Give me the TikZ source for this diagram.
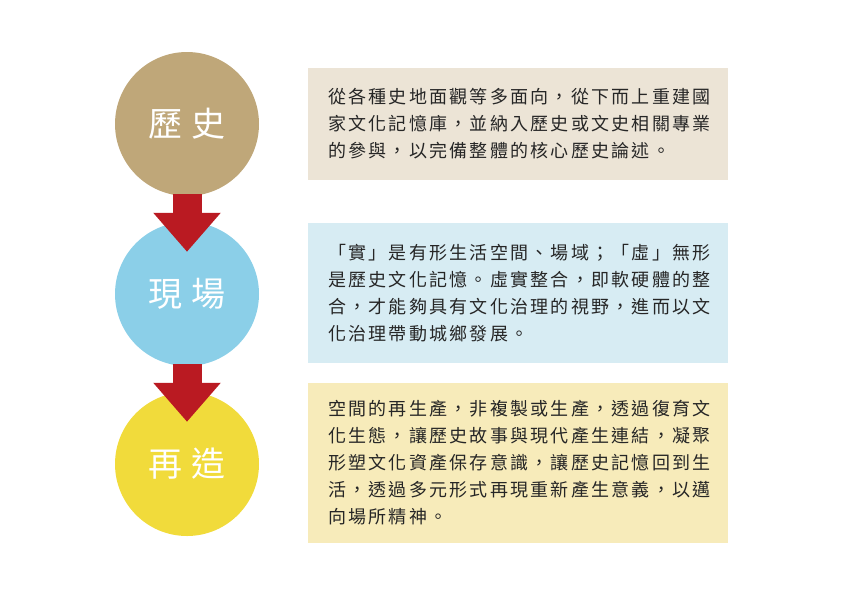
\documentclass[tikz,border=0pt]{standalone}
\usepackage{fontspec}
\usepackage{xcolor}
\usepackage{tikz}
\usetikzlibrary{arrows.meta, positioning}
\newfontfamily\cjk[LetterSpace=12.5]{Noto Sans CJK TC}
\newfontfamily\cjktitle{Noto Sans CJK TC}
\definecolor{histtan}{RGB}{191,167,121}
\definecolor{siteblue}{RGB}{139,207,232}
\definecolor{remakeyel}{RGB}{241,219,59}
\definecolor{arrred}{RGB}{186,26,34}
\definecolor{histbox}{RGB}{236,228,214}
\definecolor{sitebox}{RGB}{215,236,243}
\definecolor{remakebox}{RGB}{247,235,186}
\definecolor{bodytext}{RGB}{38,38,38}

\begin{document}
\begin{tikzpicture}[x=1pt, y=-1pt,
  stage/.style={circle, minimum size=144pt, inner sep=0pt, text=white,
                font=\cjktitle\fontsize{34pt}{40pt}\selectfont},
  note/.style={rectangle, minimum width=420pt, text width=380pt,
               inner xsep=20pt, inner ysep=0pt, align=left, text=bodytext,
               font=\cjk\fontsize{18pt}{27pt}\selectfont},
  bigarr/.style={-{Triangle[length=39pt, width=65pt]}, line width=29pt, arrred},
]
\useasboundingbox (0,0) rectangle (842,595);

% Circles (left column)
\node[stage, fill=histtan]   at (187,124) (hist)   {歷\hspace{10pt}史};
\node[stage, fill=siteblue]  at (187,294) (site)   {現\hspace{10pt}場};
\node[stage, fill=remakeyel] at (187,464) (remake) {再\hspace{10pt}造};

% Text boxes (right column)
\node[note, fill=histbox, minimum height=112pt] at (518,124) (histtxt)
  {從各種史地面觀等多面向，從下而上重建國\\
   家文化記憶庫，並納入歷史或文史相關專業\\
   的參與，以完備整體的核心歷史論述。};
\node[note, fill=sitebox, minimum height=140pt] at (518,293) (sitetxt)
  {「實」是有形生活空間、場域；「虛」無形\\
   是歷史文化記憶。虛實整合，即軟硬體的整\\
   合，才能夠具有文化治理的視野，進而以文\\
   化治理帶動城鄉發展。};
\node[note, fill=remakebox, minimum height=160pt] at (518,463) (remaketxt)
  {空間的再生產，非複製或生產，透過復育文\\
   化生態，讓歷史故事與現代產生連結，凝聚\\
   形塑文化資產保存意識，讓歷史記憶回到生\\
   活，透過多元形式再現重新產生意義，以邁\\
   向場所精神。};

% Arrows between circles
\draw[bigarr] ([yshift=2pt]hist.south) -- ([yshift=-30pt]site.north);
\draw[bigarr] ([yshift=2pt]site.south) -- ([yshift=-30pt]remake.north);

\end{tikzpicture}
\end{document}
